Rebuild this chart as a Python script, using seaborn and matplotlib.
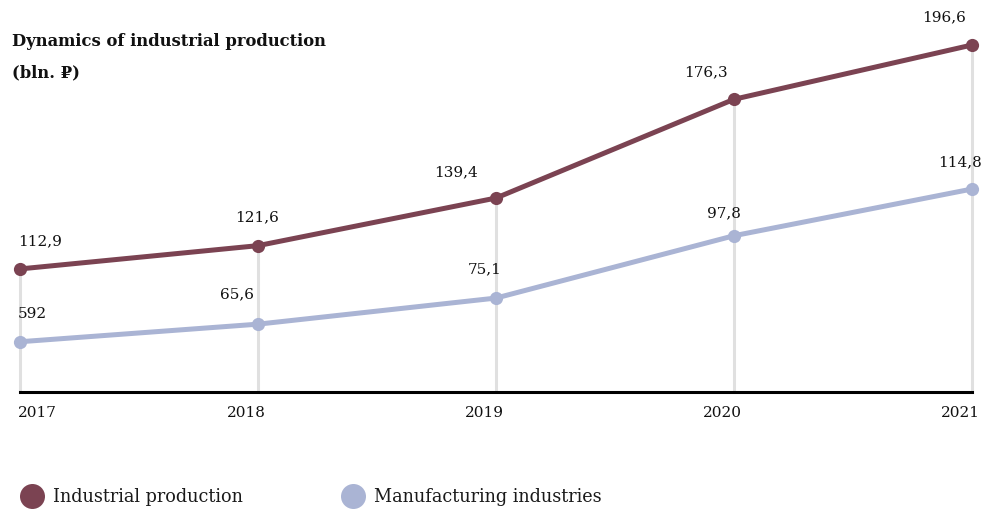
import matplotlib
matplotlib.use("Agg")
import matplotlib.pyplot as plt
import matplotlib.transforms as mtransforms
from matplotlib.lines import Line2D
import seaborn as sns

years = [2017, 2018, 2019, 2020, 2021]
industrial = [112.9, 121.6, 139.4, 176.3, 196.6]
manufacturing = [59.2, 65.6, 75.1, 97.8, 114.8]
industrial_labels = ["112,9", "121,6", "139,4", "176,3", "196,6"]
manufacturing_labels = ["592", "65,6", "75,1", "97,8", "114,8"]

c_ind = "#7b4352"
c_man = "#aab4d4"

sns.set_style("white")
plt.rcParams['font.family'] = ['DejaVu Serif', 'DejaVu Sans']

fig = plt.figure(figsize=(9.82, 5.09), dpi=100)
ax = fig.add_axes([20 / 982, 1 - 392 / 509, 952 / 982, 362 / 509])
ax2 = ax.twinx()

ax.set_xlim(2017, 2021)
ax.set_ylim(66.9, 202.2)
ax2.set_ylim(40.9, 172.7)

# vertical guides from baseline to the upper line
ax.vlines(years, 66.9, industrial, color="#e0e0e0", linewidth=2.2, zorder=0, clip_on=False)

sns.lineplot(x=years, y=industrial, ax=ax, color=c_ind, linewidth=3.6,
             marker="o", markersize=9.5, markeredgewidth=0, clip_on=False)
sns.lineplot(x=years, y=manufacturing, ax=ax2, color=c_man, linewidth=3.6,
             marker="o", markersize=9.5, markeredgewidth=0, clip_on=False)

# label offsets in pixels (dx, dy) and alignment
ind_off = [(-2, 28, "left"), (-1, 28, "center"), (-40, 26, "center"), (-28, 27, "center"), (-28, 28, "center")]
man_off = [(-2, 28, "left"), (-21, 30, "center"), (-11, 29, "center"), (-10, 22, "center"), (-12, 27, "center")]
for x, v, lab, (dx, dy, ha) in zip(years, industrial, industrial_labels, ind_off):
    ax.annotate(lab, (x, v), xytext=(dx, dy), textcoords="offset pixels",
                ha=ha, va="center", fontsize=11, color="#111111")
for x, v, lab, (dx, dy, ha) in zip(years, manufacturing, manufacturing_labels, man_off):
    ax2.annotate(lab, (x, v), xytext=(dx, dy), textcoords="offset pixels",
                 ha=ha, va="center", fontsize=11, color="#111111")

for a in (ax, ax2):
    for s in ["top", "left", "right"]:
        a.spines[s].set_visible(False)
    a.set_yticks([])
    a.grid(False)
ax2.spines["bottom"].set_visible(False)
ax.spines["bottom"].set_color("black")
ax.spines["bottom"].set_linewidth(2.2)

ax.set_xticks(years)
ax.set_xticklabels([str(y) for y in years], fontsize=11, color="#111111")
ax.tick_params(axis="x", length=0, pad=10)
for i, t in enumerate(ax.get_xticklabels()):
    if i == 0:
        t.set_ha("left")
        t.set_transform(t.get_transform() + mtransforms.ScaledTranslation(-2 / 100, 0, fig.dpi_scale_trans))
    else:
        t.set_transform(t.get_transform() + mtransforms.ScaledTranslation(-12 / 100, 0, fig.dpi_scale_trans))

fig.text(12 / 982, 1 - 42 / 509, "Dynamics of industrial production", fontsize=11.8,
         fontweight="bold", va="center", ha="left", color="#111111")
fig.text(12 / 982, 1 - 73 / 509, "(bln. ₽)", fontsize=11.8,
         fontweight="bold", va="center", ha="left", color="#111111")

handles = [Line2D([], [], marker="o", linestyle="", markersize=18, color=c_ind, markeredgewidth=0),
           Line2D([], [], marker="o", linestyle="", markersize=18, color=c_man, markeredgewidth=0)]
fig.legend(handles, ["Industrial production", "Manufacturing industries"], loc="center left",
           bbox_to_anchor=(14.5 / 982, 1 - 497 / 509), ncol=2, frameon=False, fontsize=12.7,
           labelcolor="#1a1a1a", handletextpad=0.6, columnspacing=5.6, handlelength=1.2,
           borderaxespad=0)

fig.savefig("out.png", dpi=100)
